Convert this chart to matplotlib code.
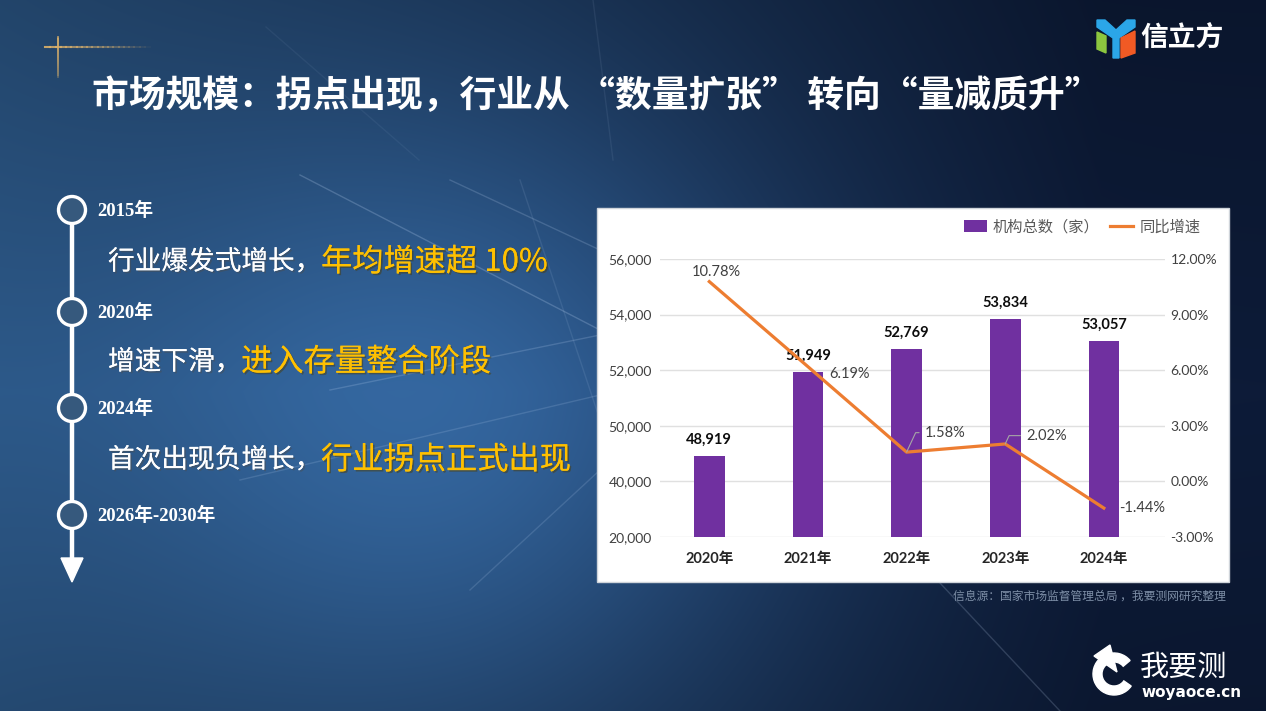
import numpy as np
import matplotlib.pyplot as plt
from matplotlib import patches
import matplotlib.patheffects as pe

plt.rcParams['font.family'] = ['Noto Sans CJK SC', 'DejaVu Sans']

# ---- chart data ----
years = ["2020年", "2021年", "2022年", "2023年", "2024年"]
counts = [48919, 51949, 52769, 53834, 53057]          # 机构总数（家）
growth = [10.78, 6.19, 1.58, 2.02, -1.44]             # 同比增速 (%)
left_ticks = [46000, 48000, 50000, 52000, 54000, 56000]
left_tick_labels = ["20,000", "40,000", "50,000", "52,000", "54,000", "56,000"]
right_ticks = [-3, 0, 3, 6, 9, 12]

# ---- slide text ----
title = "市场规模：拐点出现，行业从 “数量扩张” 转向“量减质升”"
timeline_years = ["2015年", "2020年", "2024年", "2026年-2030年"]
white_parts = ["行业爆发式增长，", "增速下滑，", "首次出现负增长，"]
gold_parts = ["年均增速超 10%", "进入存量整合阶段", "行业拐点正式出现"]
source = "信息源：国家市场监督管理总局 ，我要测网研究整理"

COLORS = {
    "bar": "#7030A0",
    "line": "#ED7D31",
    "grid": "#E0E0E0",
    "gold": "#FFC000",
    "text": "#404040",
}
CHART_FONT = ['Lato', 'Noto Sans CJK SC']

W, H = 1266, 711
fig = plt.figure(figsize=(W / 100, H / 100), dpi=100)

# 1. Background: blue gradient with a soft glow, in pixel coords (y down)
ax_bg = fig.add_axes([0, 0, 1, 1])
yy, xx = np.mgrid[0:H, 0:W]
t = np.clip(xx / W * 1.15, 0, 1)[..., None]
c_left = np.array([42, 84, 130]) / 255
c_right = np.array([13, 27, 56]) / 255
base = c_left * (1 - t) + c_right * t
shade = (1 - 0.35 * np.abs(yy / H - 0.55))[..., None]
glow = np.exp(-((xx - 470) ** 2 + (yy - 420) ** 2) / (2 * 230 ** 2))[..., None]
img = np.clip(base * shade + glow * np.array([22, 42, 60]) / 255, 0, 1)
ax_bg.imshow(img, extent=[0, W, H, 0], aspect='auto', zorder=0)
ax_bg.set_xlim(0, W)
ax_bg.set_ylim(H, 0)
ax_bg.axis('off')

# light rays
rays = [
    (300, 175, 600, 330, 0.22), (450, 180, 600, 250, 0.18),
    (330, 390, 600, 335, 0.18), (240, 480, 600, 395, 0.15),
    (470, 590, 600, 470, 0.15), (520, 180, 600, 420, 0.10),
    (593, 0, 613, 160, 0.08), (266, 27, 419, 160, 0.06),
    (940, 583, 1060, 711, 0.18),
]
for x0, y0, x1, y1, a in rays:
    ax_bg.plot([x0, x1], [y0, y1], color='#cfe3ff', lw=1, alpha=a, zorder=1)

# gold cross decoration (fading)
n = 20
for i in range(n):
    a = 0.9 * (1 - i / n)
    ax_bg.plot([45 + i * 5.25, 45 + (i + 1) * 5.25], [47, 47], color='#d9b06a', lw=1.5, alpha=a, zorder=2)
    ax_bg.plot([58, 58], [37 + i * 2, 37 + (i + 1) * 2], color='#d9b06a', lw=1.2,
               alpha=0.9 * (1 - 0.6 * i / n), zorder=2)

# title
ax_bg.text(92, 97, title, color='white', fontsize=26.5, fontweight='bold', va='center', ha='left', zorder=3)

# 信立方 logo
ax_bg.add_patch(patches.Polygon([(1097, 20), (1105, 20), (1116, 30), (1127, 20), (1135, 20), (1135, 27),
                                 (1119, 38), (1119, 58), (1113, 58), (1113, 38), (1097, 27)],
                                color='#2ba6e8', zorder=3))
ax_bg.add_patch(patches.Polygon([(1097, 32), (1106, 36), (1106, 53), (1097, 49)], color='#8cc63f', zorder=3))
ax_bg.add_patch(patches.Polygon([(1121, 38), (1135, 31), (1135, 53), (1121, 58)], color='#f15a24', zorder=3))
ax_bg.text(1140, 39, "信立方", color='white', fontsize=20, fontweight='bold', va='center', ha='left', zorder=3)

# 2. Timeline on the left
node_y = [210, 312, 408, 515]
sentence_y = [262, 362, 460]
ax_bg.plot([72, 72], [224, 562], color='white', lw=3.2, zorder=3, solid_capstyle='butt')
ax_bg.add_patch(patches.Polygon([(61, 558), (83, 558), (72, 582)], color='white', zorder=3))
for y, label in zip(node_y, timeline_years):
    ax_bg.add_patch(patches.Circle((72, y), 13.5, facecolor='#36597d', edgecolor='white', lw=2.4, zorder=4))
    ax_bg.text(97, y + 1, label, color='white', fontsize=13.5, fontweight='bold', va='center', ha='left',
               family=['Liberation Serif', 'Noto Sans CJK SC'], zorder=4)

shadow = [pe.withSimplePatchShadow(offset=(1.2, -1.2), alpha=0.45), pe.Normal()]
for y, w_txt, g_txt in zip(sentence_y, white_parts, gold_parts):
    t1 = ax_bg.text(108, y, w_txt, color='white', fontsize=19.2, va='center', ha='left',
                    path_effects=shadow, zorder=4)
    ax_bg.annotate(g_txt, xy=(1, 0.5), xycoords=t1, color=COLORS["gold"], fontsize=22.5, va='center',
                   ha='left', path_effects=shadow, zorder=4)

# 3. Chart panel
ax_bg.add_patch(patches.Rectangle((597, 208), 632, 374, facecolor='white', edgecolor='#cfd4da', lw=1, zorder=5))
ax_bg.text(1226, 596, source, color='#7d8ea6', fontsize=8.5, va='center', ha='right', zorder=3)

# 我要测 logo
ax_bg.add_patch(patches.Wedge((1114, 674), 21, 35, 320, width=9, color='white', zorder=3))
ax_bg.add_patch(patches.Polygon([(1094, 656), (1110, 645), (1117, 672)], color='white', zorder=3))
ax_bg.text(1140, 668, "我要测", color='white', fontsize=21, va='center', ha='left', zorder=3)
ax_bg.text(1141, 692, "woyaoce.cn", color='white', fontsize=11, fontweight='bold', va='center', ha='left',
           family=['DejaVu Sans'], zorder=3)

ax = fig.add_axes([660 / W, 1 - 537 / H, (1165 - 660) / W, (537 - 259) / H])
ax.set_facecolor('none')
x = np.arange(len(years))
ax.bar(x, counts, width=0.31, color=COLORS["bar"], zorder=2, label="机构总数（家）")
ax.set_xlim(-0.5, 4.62)
ax.set_ylim(left_ticks[0], left_ticks[-1])
ax.set_yticks(left_ticks, left_tick_labels, fontsize=10, color=COLORS["text"], family=CHART_FONT)
ax.set_xticks(x, years, fontsize=10.5, fontweight='bold', color='#262626', family=CHART_FONT)
ax.grid(axis='y', color=COLORS["grid"], lw=1)
ax.set_axisbelow(True)
ax.tick_params(axis='y', length=0, pad=6)
ax.tick_params(axis='x', length=0, pad=11)
for s in ax.spines.values():
    s.set_visible(False)

for xi, v in zip(x, counts):
    ax.annotate(f"{v:,}", (xi, v), xytext=(0, 11.5), textcoords='offset points', ha='center', va='center',
                fontsize=10.5, fontweight='bold', color='#0d0d0d', family=CHART_FONT)

ax2 = ax.twinx()
ax2.plot(x, growth, color=COLORS["line"], lw=2.3, zorder=3, label="同比增速")
ax2.set_ylim(right_ticks[0], right_ticks[-1])
ax2.set_yticks(right_ticks, [f"{v:.2f}%" for v in right_ticks], fontsize=10, color=COLORS["text"],
               family=CHART_FONT)
ax2.tick_params(axis='y', length=0, pad=4)
for s in ax2.spines.values():
    s.set_visible(False)

# growth labels: (dx, dy) in points, ha, with leader line or not
label_style = [((5, 7), 'center', False), ((15, -5), 'left', False), ((13, 14), 'left', True),
               ((15, 6), 'left', True), ((11, 0), 'left', False)]
for xi, v, (off, ha, leader) in zip(x, growth, label_style):
    kw = {}
    if leader:
        kw['arrowprops'] = dict(arrowstyle='-', color='#a6a6a6', lw=0.8, shrinkA=2, shrinkB=0,
                                relpos=(0, 0.5), connectionstyle='angle,angleA=0,angleB=65,rad=0')
    ax2.annotate(f"{v:.2f}%", (xi, v), xytext=off, textcoords='offset points', ha=ha, va='center',
                 fontsize=10.5, color=COLORS["text"], family=CHART_FONT, **kw)

h1, l1 = ax.get_legend_handles_labels()
h2, l2 = ax2.get_legend_handles_labels()
fig.legend(h1 + h2, l1 + l2, loc='center right', bbox_to_anchor=(1214 / W, 1 - 227 / H), ncol=2,
           frameon=False, fontsize=11, labelcolor='#595959', handlelength=1.5, handleheight=0.8,
           columnspacing=0.7, handletextpad=0.4)

fig.savefig("out.png", dpi=100)
